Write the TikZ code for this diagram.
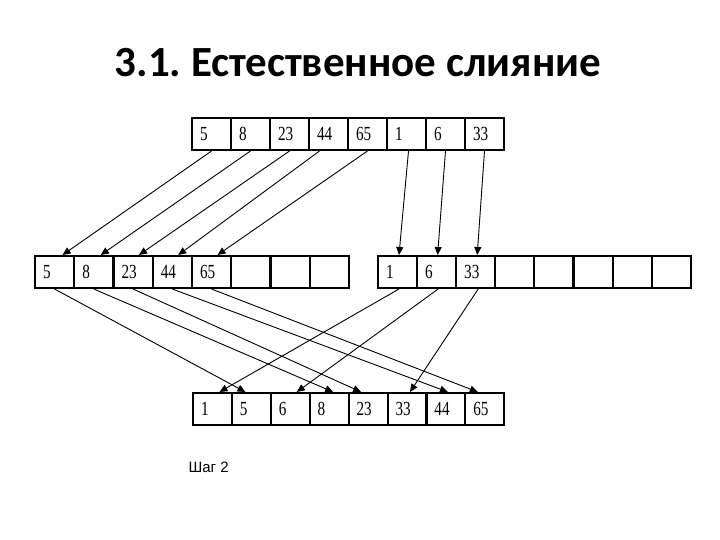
\documentclass[tikz,border=0pt]{standalone}
\usepackage{fontspec}
\setmainfont{Liberation Serif}
\newfontfamily\titlefont{Carlito}
\newfontfamily\labfont{Liberation Sans}
\usetikzlibrary{arrows.meta}
\frenchspacing
\newcommand\cellval[1]{\scalebox{0.95}[1.25]{#1}}
\tikzset{
  cell/.style={draw=black, line width=2pt, minimum width=39pt, minimum height=32pt,
    inner sep=0pt, anchor=north west, text width=39pt, align=left,
    font=\fontsize{16}{16}\selectfont, execute at begin node={\hspace*{8pt}}},
  arr/.style={line width=0.9pt, -{Triangle[length=8pt,width=7pt]}},
}
\begin{document}
\begin{tikzpicture}[x=1pt,y=-1pt]
\useasboundingbox (0,0) rectangle (720,540);
\node[anchor=base, font=\titlefont\bfseries\fontsize{43}{43}\selectfont] (title) at (358,77) {3.1. Естественное слияние};
% top row
\foreach \v [count=\i] in {5,8,23,44,65,1,6,33}
  \node[cell] (t\i) at ({191+39*(\i-1)},117) {\cellval{\v}};
% middle left
\foreach \v [count=\i] in {5,8,23,44,65,{},{},{}}
  \node[cell] (l\i) at ({34+39.25*(\i-1)},255) {\cellval{\v}};
% middle right
\foreach \v [count=\i] in {1,6,33,{},{},{},{},{}}
  \node[cell] (r\i) at ({377+39.1*(\i-1)},255) {\cellval{\v}};
% bottom
\foreach \v [count=\i] in {1,5,6,8,23,33,44,65}
  \node[cell] (b\i) at ({192+38.9*(\i-1)},392) {\cellval{\v}};
% top -> middle
\draw[arr] (t1.south) -- ([xshift=8pt]l1.north);
\draw[arr] (t2.south) -- ([xshift=7pt]l2.north);
\draw[arr] (t3.south) -- ([xshift=6pt]l3.north);
\draw[arr] ([xshift=-9pt]t4.south) -- ([xshift=6pt]l4.north);
\draw[arr] (t5.south) -- ([xshift=6pt]l5.north);
\draw[arr] ([xshift=2pt]t6.south) -- ([xshift=1.5pt]r1.north);
\draw[arr] (t7.south) -- ([xshift=1pt]r2.north);
\draw[arr] (t8.south) -- ([xshift=1.5pt]r3.north);
% middle -> bottom
\draw[arr] (l1.south) -- ([xshift=-6pt]b2.north);
\draw[arr] (l2.south) -- ([xshift=4pt]b4.north);
\draw[arr] (l3.south) -- ([xshift=-7pt]b5.north);
\draw[arr] (l4.south) -- ([xshift=2pt]b7.north);
\draw[arr] (l5.south) -- ([xshift=-7pt]b8.north);
\draw[arr] ([xshift=1.5pt]r1.south) -- ([xshift=7pt]b1.north);
\draw[arr] ([xshift=1.5pt]r2.south) -- ([xshift=6.5pt]b3.north);
\draw[arr] ([xshift=2.5pt]r3.south) -- ([xshift=3pt]b6.north);
\node[anchor=base west, font=\labfont\fontsize{15}{15}\selectfont] (step) at (185,472) {Шаг 2};
\end{tikzpicture}
\end{document}
